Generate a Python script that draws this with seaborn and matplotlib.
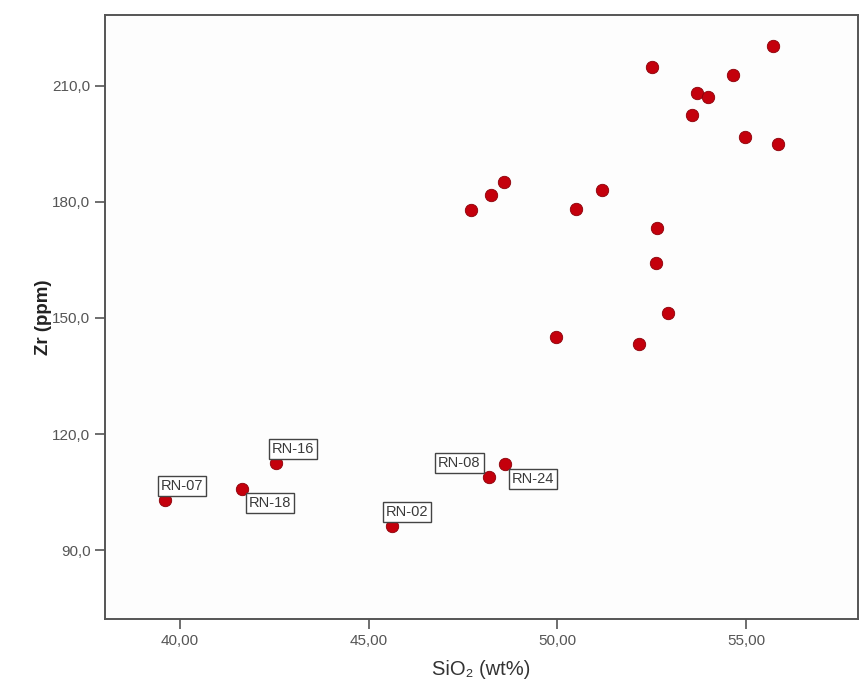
import matplotlib
matplotlib.use("Agg")
import matplotlib.pyplot as plt
from matplotlib.ticker import FixedLocator, FuncFormatter
import seaborn as sns
import pandas as pd

# ---- data ----
sio2 = [55.71, 52.51, 54.66, 53.69, 54.00, 53.57, 54.97, 55.85,
        48.58, 48.25, 47.71, 50.49, 51.18, 52.64, 52.61, 52.92,
        49.97, 52.15,
        39.62, 41.64, 42.56, 45.61, 48.18, 48.60]
zr = [220.2, 214.8, 212.9, 208.1, 207.1, 202.4, 196.7, 194.9,
      185.1, 181.7, 178.0, 178.1, 183.1, 173.2, 164.2, 151.2,
      145.1, 143.4,
      102.9, 105.9, 112.6, 96.2, 108.9, 112.3]
sample = [""] * 18 + ["RN-07", "RN-18", "RN-16", "RN-02", "RN-08", "RN-24"]

x_ticks = [40, 45, 50, 55]
y_ticks = [90, 120, 150, 180, 210]

df = pd.DataFrame({"SiO2": sio2, "Zr": zr, "sample": sample})

# ---- style ----
sns.set_style("white")
plt.rcParams["font.family"] = ["Liberation Sans", "DejaVu Sans"]

fig = plt.figure(figsize=(8.61, 6.82), dpi=100)
fig.patch.set_facecolor("white")
ax = fig.add_axes([105 / 861, 1 - 619 / 682, (858 - 105) / 861, (619 - 15) / 682])
ax.set_facecolor("#fdfdfd")

sns.scatterplot(data=df, x="SiO2", y="Zr", ax=ax, color="#c4000c",
                edgecolor="#8a0008", linewidth=0.6, s=80, legend=False, zorder=3)

# label placement (pixel offsets from point; style only)
label_style = {
    "RN-07": dict(off=(-5, 7), ha="left", va="bottom"),
    "RN-18": dict(off=(7, -7), ha="left", va="top"),
    "RN-16": dict(off=(-5, 7), ha="left", va="bottom"),
    "RN-02": dict(off=(-6, 7), ha="left", va="bottom"),
    "RN-08": dict(off=(-8, 7), ha="right", va="bottom"),
    "RN-24": dict(off=(7, -8), ha="left", va="top"),
}
for xv, yv, lab in zip(df["SiO2"], df["Zr"], df["sample"]):
    if not lab:
        continue
    st = label_style[lab]
    ax.annotate(lab, (xv, yv), xytext=st["off"], textcoords="offset pixels",
                ha=st["ha"], va=st["va"], fontsize=10.5, color="#3a3a3a",
                bbox=dict(boxstyle="square,pad=0.2", fc="white", ec="#444444", lw=1.0),
                zorder=4)

ax.set_xlim(38.02, 57.96)
ax.set_ylim(72.2, 228.3)
ax.xaxis.set_major_locator(FixedLocator(x_ticks))
ax.yaxis.set_major_locator(FixedLocator(y_ticks))
ax.xaxis.set_major_formatter(FuncFormatter(lambda v, p: f"{v:.2f}".replace(".", ",")))
ax.yaxis.set_major_formatter(FuncFormatter(lambda v, p: f"{v:.1f}".replace(".", ",")))

for sp in ax.spines.values():
    sp.set_visible(True)
    sp.set_color("#555555")
    sp.set_linewidth(1.4)

ax.tick_params(axis="both", which="major", direction="out", length=7, width=1.2,
               color="#555555", labelsize=11, labelcolor="#555555", pad=3.5,
               bottom=True, left=True, top=False, right=False)

ax.set_xlabel("SiO₂ (wt%)", fontsize=14.5, color="#333333", labelpad=9)
ax.set_ylabel("Zr (ppm)", fontsize=13.5, fontweight="bold", color="#222222", labelpad=0)

fig.savefig("out.png", dpi=100)
